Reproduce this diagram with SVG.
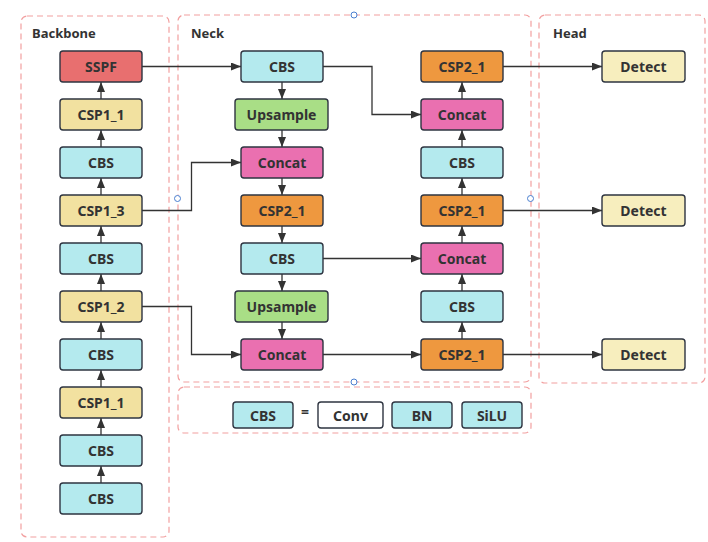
<svg xmlns="http://www.w3.org/2000/svg" width="708" height="542" viewBox="0 0 708 542">
<style>
.grp{fill:none;stroke:#F2A0A0;stroke-width:1.2;stroke-dasharray:6 4}
.n{stroke:#2E3440;stroke-width:1.4}
.t{font-family:"Noto Sans","Open Sans",sans-serif;font-weight:bold;font-size:14px;fill:#333;text-anchor:middle;dominant-baseline:central}
.h{font-family:"Noto Sans","Open Sans",sans-serif;font-weight:bold;font-size:13px;fill:#333}
.c{fill:none;stroke:#333;stroke-width:1.3}
.hd{fill:#fff;stroke:#4A7FD0;stroke-width:1}
.sspf{fill:#E86F6F}.csp1{fill:#F2E1A0}.cbs{fill:#B4EAEE}.up{fill:#A9DE86}.cat{fill:#EA70B0}.csp2{fill:#EE983F}.det{fill:#F7EEBE}.conv{fill:#fff}
</style>
<defs>
<marker id="a" viewBox="0 0 10 8" refX="10" refY="4" markerWidth="10" markerHeight="8" markerUnits="userSpaceOnUse" orient="auto">
<path d="M0,0 L10,4 L0,8 z" fill="#333"/>
</marker>
</defs>
<rect width="708" height="542" fill="#fff"/>
<g id="containers">
<rect class="grp" x="21" y="16" width="148" height="521" rx="6"/>
<rect class="grp" x="178" y="15" width="353" height="367" rx="6"/>
<rect class="grp" x="539" y="15" width="166" height="368" rx="6"/>
<rect class="grp" x="178" y="387" width="353" height="46" rx="6"/>
<text class="h" x="32" y="38">Backbone</text>
<text class="h" x="191" y="38">Neck</text>
<text class="h" x="553" y="38">Head</text>
</g>
<g id="connectors">
<path class="c" marker-end="url(#a)" d="M101,99 V82"/>
<path class="c" marker-end="url(#a)" d="M101,147 V130"/>
<path class="c" marker-end="url(#a)" d="M101,195 V178"/>
<path class="c" marker-end="url(#a)" d="M101,243 V226"/>
<path class="c" marker-end="url(#a)" d="M101,291 V274"/>
<path class="c" marker-end="url(#a)" d="M101,339 V322"/>
<path class="c" marker-end="url(#a)" d="M101,387 V370"/>
<path class="c" marker-end="url(#a)" d="M101,435 V418"/>
<path class="c" marker-end="url(#a)" d="M101,483 V466"/>
<path class="c" marker-end="url(#a)" d="M142,66.5 H241"/>
<path class="c" marker-end="url(#a)" d="M323,66.5 H372 V114.5 H421"/>
<path class="c" marker-end="url(#a)" d="M282,82 V99"/>
<path class="c" marker-end="url(#a)" d="M282,130 V147"/>
<path class="c" marker-end="url(#a)" d="M282,178 V195"/>
<path class="c" marker-end="url(#a)" d="M282,226 V243"/>
<path class="c" marker-end="url(#a)" d="M282,274 V291"/>
<path class="c" marker-end="url(#a)" d="M282,322 V339"/>
<path class="c" marker-end="url(#a)" d="M142,210.5 H191.5 V162.5 H241"/>
<path class="c" marker-end="url(#a)" d="M142,306.5 H191.5 V354.5 H241"/>
<path class="c" marker-end="url(#a)" d="M323,258.5 H421"/>
<path class="c" marker-end="url(#a)" d="M323,354.5 H421"/>
<path class="c" marker-end="url(#a)" d="M462,339 V322"/>
<path class="c" marker-end="url(#a)" d="M462,291 V274"/>
<path class="c" marker-end="url(#a)" d="M462,243 V226"/>
<path class="c" marker-end="url(#a)" d="M462,195 V178"/>
<path class="c" marker-end="url(#a)" d="M462,147 V130"/>
<path class="c" marker-end="url(#a)" d="M462,99 V82"/>
<path class="c" marker-end="url(#a)" d="M503,66.5 H602"/>
<path class="c" marker-end="url(#a)" d="M503,210.5 H602"/>
<path class="c" marker-end="url(#a)" d="M503,354.5 H602"/>
</g>
<g id="b-sspf"><rect class="n sspf" x="60" y="51" width="82" height="31" rx="3"/><text class="t" x="101" y="66.5">SSPF</text></g>
<g id="b-csp1-1a"><rect class="n csp1" x="60" y="99" width="82" height="31" rx="3"/><text class="t" x="101" y="114.5">CSP1_1</text></g>
<g id="b-cbs1"><rect class="n cbs" x="60" y="147" width="82" height="31" rx="3"/><text class="t" x="101" y="162.5">CBS</text></g>
<g id="b-csp1-3"><rect class="n csp1" x="60" y="195" width="82" height="31" rx="3"/><text class="t" x="101" y="210.5">CSP1_3</text></g>
<g id="b-cbs2"><rect class="n cbs" x="60" y="243" width="82" height="31" rx="3"/><text class="t" x="101" y="258.5">CBS</text></g>
<g id="b-csp1-2"><rect class="n csp1" x="60" y="291" width="82" height="31" rx="3"/><text class="t" x="101" y="306.5">CSP1_2</text></g>
<g id="b-cbs3"><rect class="n cbs" x="60" y="339" width="82" height="31" rx="3"/><text class="t" x="101" y="354.5">CBS</text></g>
<g id="b-csp1-1b"><rect class="n csp1" x="60" y="387" width="82" height="31" rx="3"/><text class="t" x="101" y="402.5">CSP1_1</text></g>
<g id="b-cbs4"><rect class="n cbs" x="60" y="435" width="82" height="31" rx="3"/><text class="t" x="101" y="450.5">CBS</text></g>
<g id="b-cbs5"><rect class="n cbs" x="60" y="483" width="82" height="31" rx="3"/><text class="t" x="101" y="498.5">CBS</text></g>
<g id="n-cbs1"><rect class="n cbs" x="241" y="51" width="82" height="31" rx="3"/><text class="t" x="282" y="66.5">CBS</text></g>
<g id="n-up1"><rect class="n up" x="235" y="99" width="93" height="31" rx="3"/><text class="t" x="281.5" y="114.5">Upsample</text></g>
<g id="n-cat1"><rect class="n cat" x="241" y="147" width="82" height="31" rx="3"/><text class="t" x="282" y="162.5">Concat</text></g>
<g id="n-csp2a"><rect class="n csp2" x="241" y="195" width="82" height="31" rx="3"/><text class="t" x="282" y="210.5">CSP2_1</text></g>
<g id="n-cbs2"><rect class="n cbs" x="241" y="243" width="82" height="31" rx="3"/><text class="t" x="282" y="258.5">CBS</text></g>
<g id="n-up2"><rect class="n up" x="235" y="291" width="93" height="31" rx="3"/><text class="t" x="281.5" y="306.5">Upsample</text></g>
<g id="n-cat2"><rect class="n cat" x="241" y="339" width="82" height="31" rx="3"/><text class="t" x="282" y="354.5">Concat</text></g>
<g id="r-csp2a"><rect class="n csp2" x="421" y="51" width="82" height="31" rx="3"/><text class="t" x="462" y="66.5">CSP2_1</text></g>
<g id="r-cat1"><rect class="n cat" x="421" y="99" width="82" height="31" rx="3"/><text class="t" x="462" y="114.5">Concat</text></g>
<g id="r-cbs1"><rect class="n cbs" x="421" y="147" width="82" height="31" rx="3"/><text class="t" x="462" y="162.5">CBS</text></g>
<g id="r-csp2b"><rect class="n csp2" x="421" y="195" width="82" height="31" rx="3"/><text class="t" x="462" y="210.5">CSP2_1</text></g>
<g id="r-cat2"><rect class="n cat" x="421" y="243" width="82" height="31" rx="3"/><text class="t" x="462" y="258.5">Concat</text></g>
<g id="r-cbs2"><rect class="n cbs" x="421" y="291" width="82" height="31" rx="3"/><text class="t" x="462" y="306.5">CBS</text></g>
<g id="r-csp2c"><rect class="n csp2" x="421" y="339" width="82" height="31" rx="3"/><text class="t" x="462" y="354.5">CSP2_1</text></g>
<g id="h-det1"><rect class="n det" x="602" y="51" width="83" height="31" rx="3"/><text class="t" x="643.5" y="66.5">Detect</text></g>
<g id="h-det2"><rect class="n det" x="602" y="195" width="83" height="31" rx="3"/><text class="t" x="643.5" y="210.5">Detect</text></g>
<g id="h-det3"><rect class="n det" x="602" y="339" width="83" height="31" rx="3"/><text class="t" x="643.5" y="354.5">Detect</text></g>
<g id="legend">
<rect class="n cbs" x="233" y="402" width="60" height="26" rx="3"/><text class="t" x="263" y="415">CBS</text>
<text class="t" x="305" y="411">=</text>
<rect class="n conv" x="318" y="402" width="65" height="26" rx="3"/><text class="t" x="350.5" y="415">Conv</text>
<rect class="n cbs" x="392" y="402" width="60" height="26" rx="3"/><text class="t" x="422" y="415">BN</text>
<rect class="n cbs" x="462" y="402" width="60" height="26" rx="3"/><text class="t" x="492" y="415">SiLU</text>
</g>
<g id="handles">
<circle class="hd" cx="354" cy="15" r="3"/>
<circle class="hd" cx="354" cy="382" r="3"/>
<circle class="hd" cx="177.5" cy="198.5" r="3"/>
<circle class="hd" cx="530.5" cy="198.5" r="3"/>
</g>
</svg>
